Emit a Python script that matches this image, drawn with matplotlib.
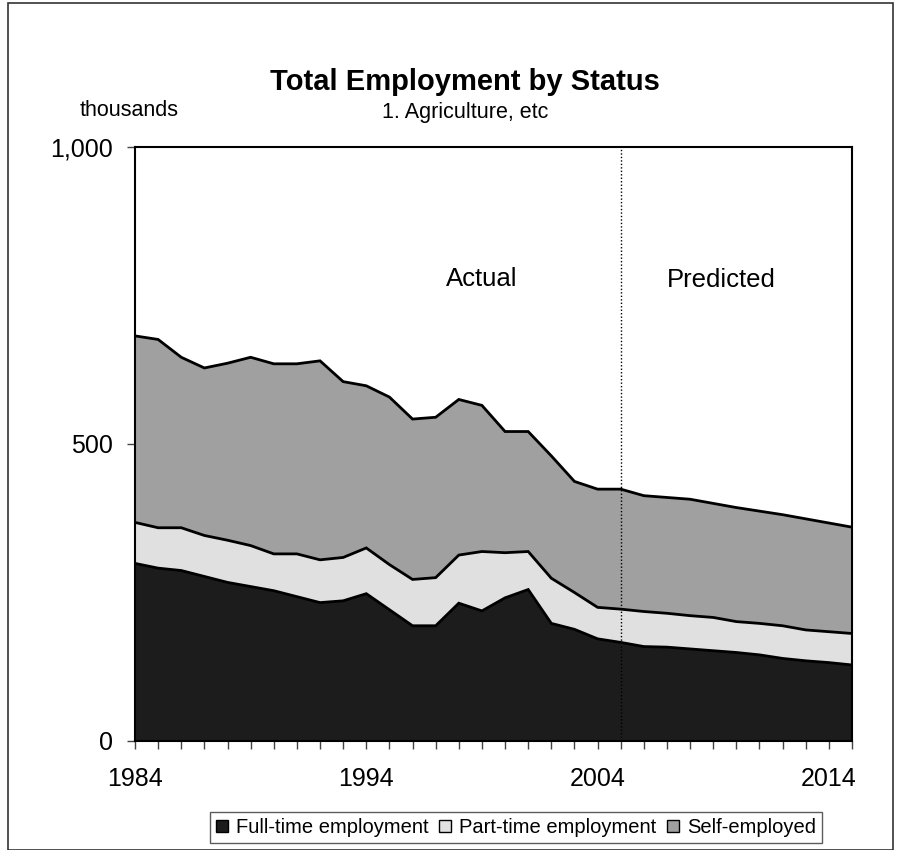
import matplotlib
matplotlib.use("Agg")
import matplotlib.pyplot as plt
from matplotlib.patches import Rectangle, Patch
from matplotlib.ticker import FuncFormatter, MultipleLocator

years = list(range(1984, 2016))

full_time = [299, 291, 287, 277, 267, 260, 253, 243, 233, 236, 248, 221, 194, 194, 232, 219,
             241, 255, 198, 188, 172, 166, 159, 158, 155, 152, 149, 145, 139, 135, 132, 128]
part_time = [69, 68, 72, 69, 71, 69, 62, 72, 72, 73, 77, 76, 78, 81, 81, 100,
             76, 64, 76, 62, 53, 56, 59, 57, 56, 56, 52, 53, 55, 52, 52, 53]
self_employed = [314, 317, 287, 282, 298, 317, 320, 320, 335, 296, 273, 282, 270, 270, 262, 246,
                 204, 202, 206, 187, 199, 202, 195, 195, 196, 192, 192, 189, 187, 187, 183, 179]

series_names = ["Full-time employment", "Part-time employment", "Self-employed"]
series_colors = ["#1c1c1c", "#e0e0e0", "#a0a0a0"]
split_year = 2005
tick_label_years = [1984, 1994, 2004, 2014]

plt.rcParams["font.family"] = ["Liberation Sans", "DejaVu Sans"]

W, H = 900, 850
fig = plt.figure(figsize=(W / 100, H / 100), dpi=100)

# outer chart border
fig.patches.append(Rectangle((8 / W, 0), (893 - 8) / W, 1 - 3 / H, transform=fig.transFigure,
                             fill=False, edgecolor="#333333", linewidth=1.2))

left, right, top, bottom = 135, 852, 147, 741
ax = fig.add_axes([left / W, 1 - bottom / H, (right - left) / W, (bottom - top) / H])

stacks = [full_time, part_time, self_employed]
base = [0] * len(years)
for vals, color, name in zip(stacks, series_colors, series_names):
    upper = [b + v for b, v in zip(base, vals)]
    ax.fill_between(years, base, upper, facecolor=color, edgecolor="none", label=name, zorder=2)
    ax.plot(years, upper, color="black", linewidth=2.0, zorder=3, solid_joinstyle="miter")
    base = upper

ax.axvline(split_year, color="black", linestyle=(0, (1, 1.5)), linewidth=1.0, zorder=4)

ax.set_xlim(years[0], years[-1])
ax.set_ylim(0, 1000)
ax.set_xticks(years)
ax.set_xticklabels([str(y) if y in tick_label_years else "" for y in years])
ax.yaxis.set_major_locator(MultipleLocator(500))
ax.yaxis.set_major_formatter(FuncFormatter(lambda v, p: f"{int(v):,}"))
ax.tick_params(axis="both", direction="out", length=6, width=1, color="#444444",
               labelsize=18)
ax.tick_params(axis="y", pad=10)
ax.tick_params(axis="x", pad=13)
for s in ax.spines.values():
    s.set_linewidth(1.5)
    s.set_color("black")

ax.text(1999.0, 778, "Actual", ha="center", va="center", fontsize=18.5)
ax.text(2009.35, 776, "Predicted", ha="center", va="center", fontsize=18.5)

fig.text(465 / W, 1 - 82 / H, "Total Employment by Status", ha="center", va="center",
         fontsize=21, fontweight="bold")
fig.text(465 / W, 1 - 118 / H, "1. Agriculture, etc", ha="center", va="baseline", fontsize=15.5)
fig.text(129 / W, 1 - 116 / H, "thousands", ha="center", va="baseline", fontsize=15.5)

handles = [Patch(facecolor=c, edgecolor="black", linewidth=1.0) for c in series_colors]
leg = fig.legend(handles, series_names, loc="center", bbox_to_anchor=(516 / W, 1 - 827.5 / H),
                 ncol=3, fontsize=14.5, frameon=True, fancybox=False, edgecolor="#333333",
                 handlelength=0.6, handleheight=0.6, handletextpad=0.4, columnspacing=0.5,
                 borderpad=0.3, borderaxespad=0)
leg.get_frame().set_linewidth(1.0)

fig.savefig("out.png", dpi=100)
